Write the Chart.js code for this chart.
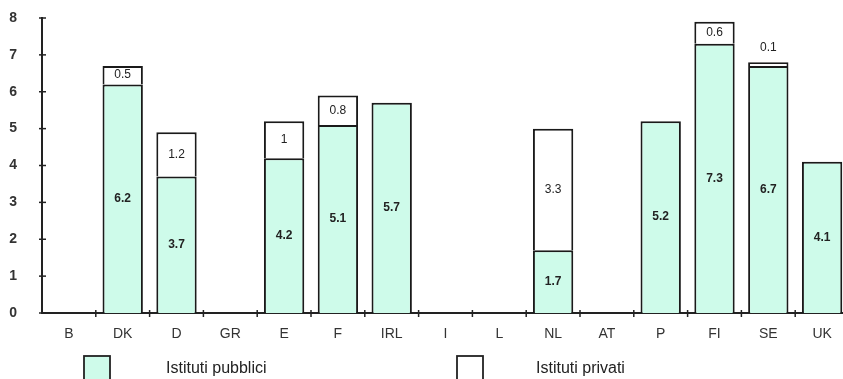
<!DOCTYPE html>
<html>
<head>
<meta charset="utf-8">
<script src="https://cdn.jsdelivr.net/npm/chart.js@4"></script>
<style>
  html, body { margin: 0; padding: 0; background: #fff; overflow: hidden; }
  #wrap { width: 843px; height: 379px; overflow: hidden; position: relative; }
  #wrap canvas { position: absolute; left: 0; top: 0; }
</style>
</head>
<body>
<div id="wrap"><canvas id="myChart" width="850" height="379"></canvas></div>
<script>
const paesi = ["B", "DK", "D", "GR", "E", "F", "IRL", "I", "L", "NL", "AT", "P", "FI", "SE", "UK"];
const pubblici = [null, 6.2, 3.7, null, 4.2, 5.1, 5.7, null, null, 1.7, null, 5.2, 7.3, 6.7, 4.1];
const privati = [null, 0.5, 1.2, null, 1, 0.8, null, null, null, 3.3, null, null, 0.6, 0.1, null];
const tick_y = [0, 1, 2, 3, 4, 5, 6, 7, 8];
const nomi_serie = ["Istituti pubblici", "Istituti privati"];

const colore_pub = "#cefbea";
const colore_priv = "#ffffff";

const ctx = document.getElementById("myChart").getContext("2d");

// etichette dentro le barre + tacche + legenda
const etichette = {
  id: "etichette",
  afterDatasetsDraw(chart) {
    const c = chart.ctx;
    c.save();
    c.textAlign = "center";
    c.textBaseline = "middle";
    chart.data.datasets.forEach((ds, i) => {
      const meta = chart.getDatasetMeta(i);
      meta.data.forEach((bar, j) => {
        const v = ds.data[j];
        if (v == null) return;
        c.fillStyle = "#222";
        c.font = (i == 0 ? "bold " : "") + "12px 'Liberation Sans', Arial, sans-serif";
        const h = Math.abs(bar.base - bar.y);
        let y = (bar.y + bar.base) / 2;
        if (h < 12) y = bar.y - 15;
        c.fillText(String(v), bar.x, y);
      });
    });
    c.restore();
  },
  afterDraw(chart) {
    const c = chart.ctx;
    const a = chart.chartArea;
    c.save();
    c.strokeStyle = "#222";
    c.lineWidth = 1.5;
    // tacche asse y che attraversano l'asse
    const ys = chart.scales.y;
    tick_y.forEach((t) => {
      const py = ys.getPixelForValue(t);
      c.beginPath();
      c.moveTo(a.left - 3, py);
      c.lineTo(a.left + 4, py);
      c.stroke();
    });
    // tacche asse x fra le categorie
    const xs = chart.scales.x;
    for (let k = 1; k < paesi.length; k++) {
      const px = (xs.getPixelForValue(k - 1) + xs.getPixelForValue(k)) / 2;
      c.beginPath();
      c.moveTo(px, a.bottom - 3);
      c.lineTo(px, a.bottom + 4);
      c.stroke();
    }
    // legenda
    const voci = [
      { x: 84, testo: nomi_serie[0], fill: colore_pub, tx: 166 },
      { x: 457, testo: nomi_serie[1], fill: colore_priv, tx: 536 },
    ];
    voci.forEach((v) => {
      c.fillStyle = v.fill;
      c.fillRect(v.x, 356, 26, 30);
      c.lineWidth = 1.8;
      c.strokeRect(v.x, 356, 26, 30);
      c.fillStyle = "#222";
      c.font = "16px 'Liberation Sans', Arial, sans-serif";
      c.textAlign = "left";
      c.textBaseline = "middle";
      c.fillText(v.testo, v.tx, 369);
    });
    c.restore();
  },
};

const myChart = new Chart(ctx, {
  type: "bar",
  data: {
    labels: paesi,
    datasets: [
      {
        label: nomi_serie[0],
        data: pubblici,
        backgroundColor: colore_pub,
        borderColor: "#1a1a1a",
        borderWidth: 2,
        borderSkipped: "start",
        barPercentage: 0.75,
        categoryPercentage: 1,
      },
      {
        label: nomi_serie[1],
        data: privati,
        backgroundColor: colore_priv,
        borderColor: "#1a1a1a",
        borderWidth: 2,
        borderSkipped: "start",
        barPercentage: 0.75,
        categoryPercentage: 1,
      },
    ],
  },
  options: {
    responsive: false,
    animation: false,
    layout: { padding: { top: 18, right: 1, bottom: 0, left: 0 } },
    plugins: {
      legend: { display: false },
      tooltip: { enabled: false },
    },
    scales: {
      x: {
        stacked: true,
        grid: { display: false },
        border: { display: true, color: "#222", width: 2 },
        ticks: {
          color: "#333",
          font: { family: "'Liberation Sans', Arial, sans-serif", size: 14 },
          padding: 5,
          maxRotation: 0,
        },
        afterFit: (scale) => {
          scale.height = 66;
          scale.paddingLeft = 0;
          scale.paddingRight = 0;
        },
      },
      y: {
        stacked: true,
        min: 0,
        max: 8,
        grid: { display: false },
        border: { display: true, color: "#222", width: 2 },
        ticks: {
          stepSize: 1,
          color: "#333",
          font: { family: "'Liberation Sans', Arial, sans-serif", size: 14, weight: "bold" },
          padding: 17,
        },
        afterFit: (scale) => {
          scale.width = 42;
          scale.paddingTop = 0;
          scale.paddingBottom = 0;
        },
      },
    },
  },
  plugins: [etichette],
});
</script>
</body>
</html>
